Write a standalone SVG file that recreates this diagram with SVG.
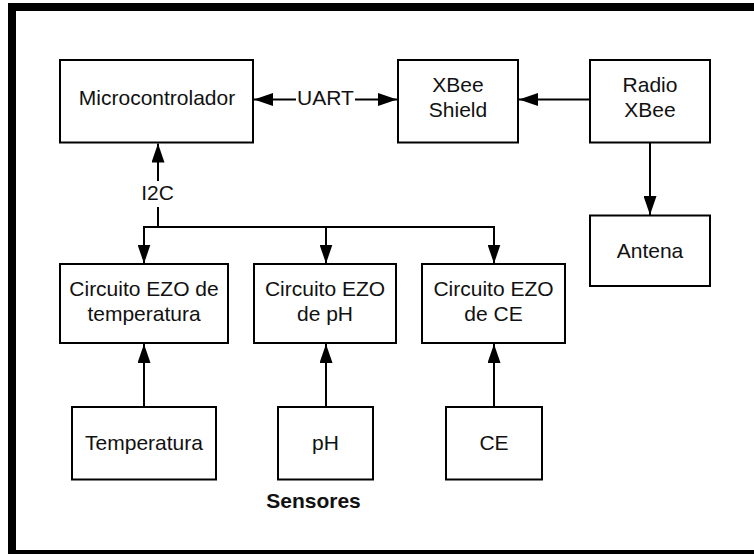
<svg xmlns="http://www.w3.org/2000/svg" width="754" height="554" viewBox="0 0 754 554">
<defs>
<style>
.box{fill:#fff;stroke:#000;stroke-width:2}
.t{font-family:"Liberation Sans",Arial,sans-serif;font-size:21px;fill:#111;text-anchor:middle}
.b{font-weight:bold}
.c{fill:none;stroke:#000;stroke-width:2}
</style>
<marker id="ah" markerUnits="userSpaceOnUse" markerWidth="19" markerHeight="13" refX="19" refY="6.5" orient="auto-start-reverse" viewBox="0 0 19 13">
<path d="M0,0 L19,6.5 L0,13 z" fill="#000"/>
</marker>
</defs>
<rect x="0" y="0" width="754" height="554" fill="#fff"/>
<rect x="12" y="7" width="760" height="547" fill="none" stroke="#000" stroke-width="8"/>

<g id="connectors">
<line class="c" x1="254" y1="99.5" x2="397" y2="99.5" marker-start="url(#ah)" marker-end="url(#ah)"/>
<rect x="296" y="86" width="59" height="24" fill="#fff"/>
<text class="t" x="325.5" y="105">UART</text>
<line class="c" x1="589" y1="99.5" x2="519" y2="99.5" marker-end="url(#ah)"/>
<line class="c" x1="650" y1="143" x2="650" y2="215" marker-end="url(#ah)"/>
<line class="c" x1="158" y1="227" x2="158" y2="143.5" marker-end="url(#ah)"/>
<rect x="138" y="181" width="40" height="26" fill="#fff"/>
<text class="t" x="157.5" y="200">I2C</text>
<line class="c" x1="143" y1="227" x2="495" y2="227"/>
<line class="c" x1="144" y1="227" x2="144" y2="263.5" marker-end="url(#ah)"/>
<line class="c" x1="326" y1="227" x2="326" y2="263.5" marker-end="url(#ah)"/>
<line class="c" x1="494" y1="227" x2="494" y2="263.5" marker-end="url(#ah)"/>
<line class="c" x1="144" y1="407" x2="144" y2="344" marker-end="url(#ah)"/>
<line class="c" x1="326" y1="407" x2="326" y2="344" marker-end="url(#ah)"/>
<line class="c" x1="494" y1="407" x2="494" y2="344" marker-end="url(#ah)"/>
</g>

<g id="microcontrolador">
<rect class="box" x="60" y="60" width="193" height="82.5"/>
<text class="t" x="157" y="105">Microcontrolador</text>
</g>
<g id="xbee-shield">
<rect class="box" x="398" y="60" width="120" height="82.5"/>
<text class="t" x="458" y="92">XBee</text>
<text class="t" x="458" y="117">Shield</text>
</g>
<g id="radio-xbee">
<rect class="box" x="590" y="60" width="120" height="82.5"/>
<text class="t" x="650" y="92">Radio</text>
<text class="t" x="650" y="117">XBee</text>
</g>
<g id="antena">
<rect class="box" x="590" y="215.5" width="120" height="70.5"/>
<text class="t" x="650" y="258">Antena</text>
</g>
<g id="ezo-temp">
<rect class="box" x="60" y="264" width="168" height="79"/>
<text class="t" x="144" y="296">Circuito EZO de</text>
<text class="t" x="144" y="321">temperatura</text>
</g>
<g id="ezo-ph">
<rect class="box" x="254" y="264" width="142" height="79"/>
<text class="t" x="325" y="296">Circuito EZO</text>
<text class="t" x="325" y="321">de pH</text>
</g>
<g id="ezo-ce">
<rect class="box" x="422" y="264" width="143" height="79"/>
<text class="t" x="493.5" y="296">Circuito EZO</text>
<text class="t" x="493.5" y="321">de CE</text>
</g>
<g id="temperatura">
<rect class="box" x="72" y="407" width="144" height="72.5"/>
<text class="t" x="144" y="450">Temperatura</text>
</g>
<g id="ph">
<rect class="box" x="278" y="407" width="95" height="72.5"/>
<text class="t" x="325.5" y="450">pH</text>
</g>
<g id="ce">
<rect class="box" x="446" y="407" width="96" height="72.5"/>
<text class="t" x="494" y="450">CE</text>
</g>
<text class="t b" x="313.5" y="508">Sensores</text>
</svg>
